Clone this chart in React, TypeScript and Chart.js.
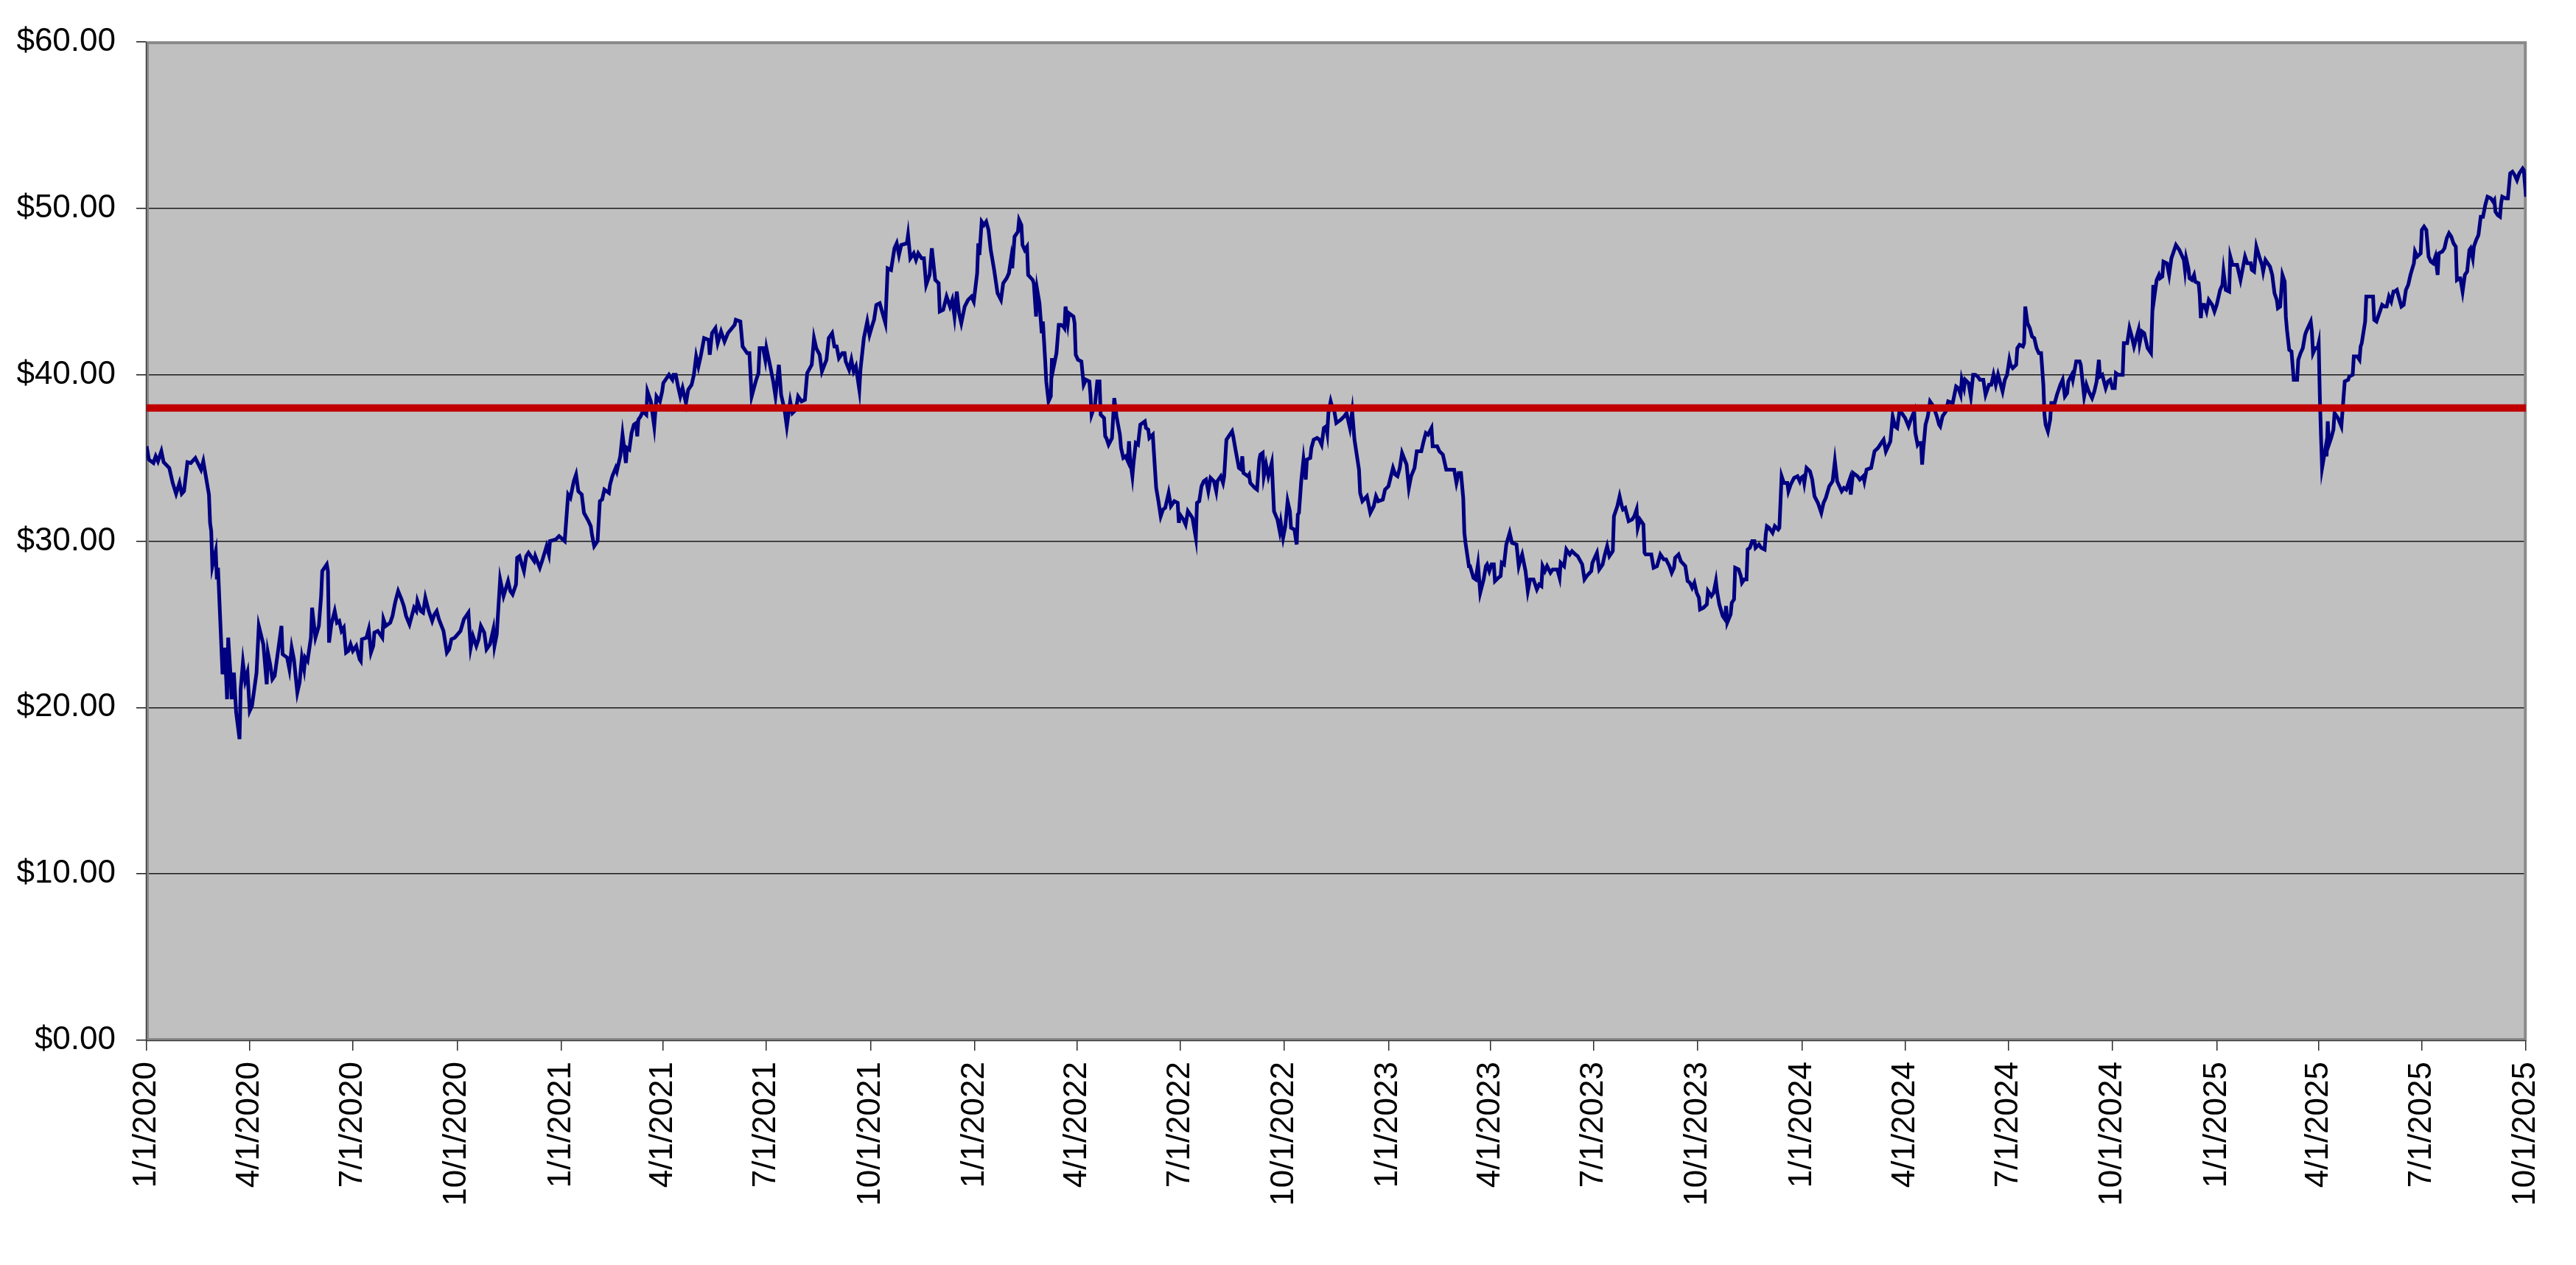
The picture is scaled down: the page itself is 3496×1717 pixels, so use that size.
import { useEffect, useRef } from 'react';
import { Chart, registerables } from 'chart.js';

Chart.register(...registerables);

// x values are days counted from 1/1/2020, y values are closing prices in $
const prices2020: [number, number][] = [
  [0,35.7],[2,34.9],[6,34.7],[8,35.1],[10,34.8],[13,35.4],[15,34.75],[20,34.4],[23,33.5],[26,32.85],[29,33.5],[31,32.85],[33,33.0],[36,34.75],[39,34.7],[43,35.0],[48,34.3],[50,34.8],[55,32.8],[56,31.1],[57,30.6],[58,28.5],[61,29.4],[62,27.7],[63,28.4],[65,25.2],[67,22.0],[69,23.6],[71,20.5],[72,24.2],[74,22.0],[75,20.5],[77,22.1],[78,20.9],[79,19.7],[82,18.1],[83,21.1],[85,22.7],[87,21.6],[89,22.1],[91,19.8],[93,20.1],[97,22.1],[99,24.9],[103,23.8],[106,21.4],[107,23.3],[109,22.6],[111,21.7],[113,21.9],[117,23.9],[119,24.9],[120,23.2],[124,23.0],[126,22.3],[128,23.6],[130,22.9],[133,20.9],[135,21.5],[137,23.0],[139,22.3],[140,23.0],[142,22.8],[145,24.2],[146,26.0],[149,24.2],[152,24.9],[154,26.7],[155,28.2],[159,28.6],[160,28.2],[161,23.9],[163,25.0],[166,25.8],[168,25.1],[170,25.2],[172,24.6],[174,24.8],[176,23.3],[178,23.4],[180,23.8],[182,23.4],[185,23.7],[188,22.9],[189,22.8],[190,24.1],[194,24.2],[196,24.7],[198,23.3],[200,23.7],[201,24.5],[204,24.6],[208,24.2],[209,25.3],[211,24.9],[215,25.1],[217,25.5],[219,26.2],[220,26.5],[222,27.0],[225,26.5],[227,26.1],[229,25.5],[232,25.0],[234,25.5],[236,26.0],[238,25.8],[239,26.4],[242,25.8],[244,25.7],[246,26.6],[249,25.8],[252,25.2],[254,25.6],[256,25.8],[258,25.3],[262,24.6],[265,23.3],[267,23.5],[269,24.1],[272,24.2],[277,24.6],[280,25.3],[284,25.7],[286,23.6],[288,24.3],[291,23.7],[293,24.1],[295,24.9],[298,24.5],[300,23.5],[303,23.8],[306,24.7],[307,23.7],[309,24.4],[312,27.7],[315,26.7],[319,27.6],[321,27.0],[323,26.8],[326,27.4],[327,29.0],[329,29.1],[333,28.2],[335,29.1],[337,29.3],[342,28.8],[343,29.1],[347,28.4],[349,28.8],[353,29.7],[355,29.2],[356,30.0],[361,30.1],[364,30.3]
];

const prices2021: [number, number][] = [
  [369,30.0],[372,32.8],[374,32.6],[377,33.6],[379,34.0],[381,33.0],[384,32.8],[386,31.7],[390,31.2],[392,30.9],[393,30.4],[395,29.7],[398,30.0],[400,32.4],[402,32.5],[404,33.1],[408,32.9],[409,33.4],[411,33.9],[414,34.4],[415,34.2],[418,35.1],[420,36.4],[423,34.7],[424,35.6],[426,35.5],[428,36.5],[430,37.0],[432,37.1],[433,36.3],[434,37.3],[436,37.5],[438,37.8],[441,37.6],[442,39.0],[445,38.4],[448,36.9],[450,38.7],[453,38.4],[455,39.0],[456,39.5],[458,39.7],[461,40.0],[464,39.7],[465,40.0],[467,40.0],[469,39.3],[471,38.7],[473,39.2],[476,38.3],[478,39.1],[481,39.4],[483,40.0],[485,41.1],[487,40.5],[489,41.1],[492,42.2],[496,42.1],[497,41.2],[499,42.5],[502,42.8],[504,41.9],[507,42.6],[510,42.0],[513,42.5],[519,43.0],[520,43.3],[524,43.2],[526,41.7],[530,41.3],[532,41.3],[534,38.7],[538,39.7],[540,40.1],[541,41.6],[544,41.6],[546,40.9],[547,41.6],[551,40.3],[553,39.6],[555,38.7],[558,40.6],[560,38.8],[563,37.9],[565,36.9],[568,38.4],[570,37.7],[573,37.9],[575,38.7],[578,38.4],[581,38.5],[583,40.1],[587,40.6],[589,42.2],[591,41.6],[594,41.2],[596,40.2],[600,40.9],[602,42.2],[605,42.5],[607,41.7],[609,41.7],[611,41.0],[614,41.3],[616,41.3],[617,40.8],[620,40.3],[622,40.9],[624,40.2],[626,40.5],[629,39.1],[630,40.3],[633,42.2],[636,43.2],[638,42.4],[641,43.1],[642,43.3],[644,44.2],[647,44.3],[652,43.1],[654,46.4],[657,46.3],[660,47.6],[662,47.9],[664,47.2],[666,47.8],[671,47.9],[672,48.4],[674,47.0],[677,47.3],[679,46.9],[681,47.3],[684,47.0],[686,47.0],[688,45.4],[691,46.0],[693,47.6],[696,45.7],[699,45.5],[700,43.8],[703,43.9],[706,44.7],[709,44.1],[711,44.5],[713,43.5],[715,45.0],[717,43.7],[719,43.1],[722,44.1],[725,44.5],[728,44.7],[730,44.4]
];

const prices2022: [number, number][] = [
  [733,46.1],[734,47.9],[735,47.2],[737,49.2],[739,49.0],[741,49.2],[743,48.7],[745,47.5],[748,46.3],[751,44.9],[754,44.5],[756,45.5],[759,45.8],[761,46.1],[763,47.0],[764,46.4],[766,48.3],[769,48.6],[770,49.3],[772,49.0],[773,47.8],[775,47.5],[777,47.7],[778,46.0],[782,45.7],[783,45.5],[785,43.5],[786,45.1],[788,44.3],[790,42.5],[791,43.2],[793,40.9],[794,39.6],[796,38.4],[798,38.7],[799,41.0],[800,40.3],[803,41.3],[805,43.0],[807,43.0],[809,42.9],[810,42.8],[811,44.1],[813,43.1],[814,43.7],[818,43.5],[819,43.1],[820,41.2],[822,40.9],[825,40.8],[827,39.4],[829,39.7],[832,39.6],[833,38.8],[834,37.6],[837,38.2],[839,39.6],[841,39.6],[842,37.6],[845,37.4],[846,36.3],[847,36.2],[849,35.8],[852,36.2],[854,38.6],[856,37.5],[859,36.4],[860,35.6],[862,35.0],[864,35.1],[866,34.8],[867,36.0],[868,34.9],[870,33.9],[871,34.7],[873,35.9],[875,35.8],[877,37.0],[881,37.2],[882,36.8],[884,36.7],[885,36.2],[888,36.4],[891,33.2],[893,32.4],[895,31.5],[897,31.9],[899,32.0],[902,32.9],[904,32.1],[907,32.4],[910,32.3],[911,31.1],[912,31.6],[915,31.3],[917,31.0],[919,31.8],[921,31.6],[923,31.4],[926,30.2],[927,32.3],[929,32.4],[931,33.3],[933,33.6],[935,33.7],[937,33.0],[939,33.8],[942,33.6],[944,33.0],[945,33.6],[948,33.9],[950,33.5],[951,33.9],[953,36.1],[955,36.3],[958,36.6],[959,36.3],[961,35.5],[964,34.4],[966,34.3],[967,35.1],[968,34.1],[972,33.9],[973,34.0],[974,33.5],[978,33.2],[980,33.1],[982,34.9],[983,35.2],[985,35.3],[986,33.9],[988,34.6],[990,33.9],[993,34.7],[995,31.8],[998,31.3],[1000,30.6],[1001,31.1],[1003,30.2],[1005,30.9],[1007,32.4],[1009,31.8],[1010,30.8],[1013,30.7],[1015,29.8],[1016,31.6],[1017,31.7],[1019,33.6],[1021,34.9],[1023,33.7],[1024,34.9],[1027,35.0],[1028,35.6],[1030,36.1],[1033,36.2],[1035,36.1],[1037,35.8],[1039,36.8],[1041,36.9],[1042,36.5],[1043,37.7],[1045,38.4],[1047,37.9],[1048,37.9],[1050,37.1],[1054,37.3],[1057,37.5],[1059,37.7],[1062,36.8],[1064,37.8],[1066,36.1],[1070,34.3],[1071,32.9],[1073,32.4],[1077,32.7],[1080,31.7],[1083,32.1],[1085,32.7],[1087,32.4],[1091,32.5],[1093,33.1],[1096,33.3]
];

const prices2023: [number, number][] = [
  [1100,34.4],[1102,34.0],[1104,33.9],[1106,34.4],[1108,35.3],[1112,34.6],[1114,33.2],[1116,33.9],[1119,34.4],[1121,35.4],[1125,35.4],[1127,36.0],[1129,36.5],[1131,36.4],[1134,36.8],[1135,35.7],[1139,35.7],[1141,35.4],[1144,35.2],[1147,34.3],[1150,34.3],[1154,34.3],[1156,33.5],[1158,34.1],[1160,34.1],[1162,32.6],[1163,30.5],[1164,29.9],[1167,28.5],[1168,28.5],[1171,27.8],[1173,27.7],[1175,28.6],[1177,26.9],[1180,27.7],[1182,28.5],[1183,28.6],[1185,28.2],[1187,28.6],[1189,28.6],[1190,27.6],[1193,27.8],[1195,27.9],[1196,28.7],[1198,28.6],[1200,29.8],[1203,30.5],[1205,29.9],[1209,29.8],[1211,28.5],[1213,29.0],[1214,29.2],[1217,28.2],[1219,27.0],[1221,27.7],[1224,27.7],[1227,27.1],[1229,27.4],[1231,27.3],[1232,28.5],[1234,28.2],[1236,28.5],[1239,28.1],[1241,28.3],[1245,28.3],[1247,27.8],[1248,28.7],[1251,28.5],[1253,29.5],[1256,29.2],[1258,29.4],[1261,29.2],[1263,29.1],[1267,28.6],[1269,27.7],[1271,27.9],[1275,28.2],[1276,28.7],[1278,29.0],[1280,29.3],[1282,28.3],[1285,28.6],[1287,29.2],[1289,29.7],[1291,29.1],[1294,29.4],[1295,31.5],[1298,32.1],[1300,32.7],[1302,32.1],[1303,31.9],[1305,32.0],[1308,31.2],[1311,31.3],[1313,31.5],[1315,31.9],[1316,30.8],[1318,31.3],[1321,31.0],[1322,29.3],[1323,29.2],[1327,29.2],[1328,29.2],[1330,28.4],[1333,28.5],[1336,29.2],[1339,28.9],[1341,28.9],[1344,28.5],[1346,28.1],[1348,28.4],[1349,29.0],[1352,29.2],[1354,28.8],[1358,28.5],[1360,27.6],[1362,27.5],[1364,27.2],[1366,27.5],[1368,26.9],[1370,26.6],[1371,25.9],[1374,26.0],[1377,26.2],[1378,27.0],[1381,26.7],[1383,26.9],[1385,27.6],[1386,27.0],[1388,26.2],[1391,25.5],[1393,25.3],[1394,26.1],[1395,25.1],[1398,25.6],[1399,26.3],[1401,26.5],[1402,28.4],[1405,28.3],[1407,27.9],[1408,27.5],[1410,27.7],[1412,27.7],[1413,29.5],[1415,29.6],[1417,30.0],[1419,30.0],[1420,29.6],[1423,29.8],[1425,29.6],[1428,29.5],[1429,30.4],[1430,30.9],[1432,30.8],[1435,30.5],[1437,30.9],[1440,30.7],[1441,30.8],[1443,33.9],[1445,33.5],[1448,33.5],[1449,33.0],[1451,33.4],[1454,33.8],[1457,33.9],[1459,33.6],[1460,33.8],[1462,33.9]
];

const prices2024: [number, number][] = [
  [1463,33.5],[1465,34.4],[1468,34.2],[1470,33.7],[1472,32.7],[1475,32.3],[1478,31.7],[1480,32.3],[1482,32.6],[1485,33.3],[1488,33.6],[1490,34.8],[1492,33.6],[1496,33.0],[1498,33.2],[1500,33.1],[1503,33.7],[1504,32.8],[1506,34.1],[1510,33.9],[1512,33.7],[1515,33.9],[1516,33.6],[1518,34.3],[1522,34.4],[1525,35.4],[1528,35.6],[1531,35.9],[1533,36.1],[1535,35.4],[1539,36.0],[1541,37.5],[1543,36.9],[1545,36.8],[1547,37.8],[1549,37.7],[1552,37.4],[1555,36.9],[1557,37.3],[1560,37.8],[1561,36.5],[1563,35.8],[1564,35.9],[1566,35.9],[1567,34.6],[1568,35.5],[1570,37.0],[1572,37.5],[1574,38.4],[1577,38.1],[1580,37.5],[1582,37.0],[1583,36.9],[1585,37.5],[1588,37.8],[1590,38.4],[1594,38.3],[1597,39.3],[1599,39.2],[1601,38.8],[1602,39.7],[1604,39.2],[1605,39.7],[1608,39.5],[1610,38.7],[1612,40.0],[1614,40.0],[1616,39.9],[1618,39.7],[1621,39.7],[1623,38.8],[1626,39.4],[1628,39.4],[1630,40.0],[1632,39.4],[1634,40.0],[1636,39.5],[1638,39.0],[1640,39.7],[1642,40.0],[1644,40.9],[1645,40.6],[1647,40.4],[1650,40.6],[1651,41.6],[1653,41.8],[1656,41.7],[1657,41.9],[1658,44.1],[1660,43.1],[1662,42.8],[1664,42.3],[1666,42.2],[1668,41.6],[1670,41.3],[1672,41.3],[1674,39.4],[1675,37.6],[1676,37.0],[1678,36.6],[1680,37.3],[1681,38.3],[1684,38.3],[1686,38.8],[1689,39.4],[1691,39.7],[1693,38.7],[1695,38.9],[1696,39.6],[1699,40.0],[1700,39.7],[1703,40.8],[1706,40.8],[1707,40.6],[1710,38.7],[1712,39.4],[1714,39.0],[1717,38.6],[1719,39.0],[1721,39.6],[1723,40.9],[1724,39.9],[1726,40.0],[1729,39.2],[1731,39.6],[1733,39.7],[1735,39.2],[1737,39.2],[1738,40.1],[1740,40.0],[1744,40.0],[1745,41.9],[1748,41.9],[1750,42.8],[1752,42.3],
  [1754,41.7],[1756,42.2],[1758,42.7],[1759,41.9],[1761,42.6],[1763,42.5],[1765,41.9],[1766,41.6],[1769,41.3],[1771,45.4],[1772,44.7],[1774,45.7],[1776,46.0],[1777,45.8],[1779,45.9],[1780,46.8],[1783,46.7],[1785,46.0],[1787,47.0],[1790,47.6],[1791,47.8],[1794,47.5],[1796,47.2],[1798,46.9],[1799,46.3],[1800,47.0],[1802,46.4],[1803,45.8],[1805,45.7],[1807,46.0],[1808,45.6],[1811,45.5],[1812,44.8],[1813,43.4],[1814,44.2],[1816,44.2],[1818,43.8],[1820,44.5],[1823,44.2],[1825,43.8]
];

const prices2025: [number, number][] = [
  [1827,44.2],[1830,45.1],[1832,45.4],[1833,46.2],[1835,45.1],[1838,45.0],[1839,47.1],[1841,46.6],[1845,46.6],[1848,45.7],[1850,46.4],[1852,47.1],[1854,46.7],[1857,46.7],[1858,46.3],[1860,46.2],[1862,47.7],[1865,47.0],[1867,46.6],[1868,46.2],[1870,46.9],[1872,46.7],[1874,46.5],[1876,46.0],[1878,44.9],[1880,44.5],[1881,44.0],[1883,44.1],[1885,46.0],[1887,45.6],[1888,43.5],[1889,42.7],[1891,41.5],[1893,41.4],[1895,39.7],[1898,39.7],[1899,40.9],[1901,41.3],[1903,41.6],[1905,42.4],[1906,42.6],[1910,43.2],[1911,42.6],[1912,41.3],[1914,41.6],[1916,41.6],[1917,41.9],[1918,38.7],[1919,36.4],[1920,34.4],[1922,35.2],[1923,35.6],[1924,35.1],[1925,37.2],[1926,35.8],[1928,36.2],[1930,36.7],[1931,37.7],[1934,37.4],[1937,36.9],[1939,38.7],[1940,39.6],[1943,39.7],[1944,39.9],[1947,40.0],[1948,41.1],[1951,41.1],[1953,40.9],[1954,41.7],[1955,41.9],[1958,43.2],[1959,44.7],[1961,44.7],[1963,44.7],[1965,44.7],[1966,43.3],[1968,43.2],[1971,43.8],[1973,44.2],[1975,44.1],[1977,44.1],[1979,44.7],[1981,44.4],[1983,45.0],[1984,45.0],[1986,45.1],[1988,44.6],[1990,44.1],[1992,44.2],[1994,45.1],[1996,45.4],[1998,46.0],[2001,46.7],[2002,47.4],[2004,47.1],[2007,47.3],[2008,48.7],[2010,48.9],[2012,48.7],[2014,47.1],[2016,46.8],[2018,46.7],[2020,47.1],[2022,46.0],[2023,47.3],[2026,47.4],[2028,47.6],[2030,48.2],[2032,48.5],[2034,48.3],[2036,47.9],[2038,47.7],[2039,45.7],[2041,45.8],[2042,45.8],[2044,45.0],[2046,46.0],[2048,46.2],[2050,47.5],[2051,47.6],[2053,47.0],[2054,47.7],[2056,48.1],[2058,48.4],[2060,49.5],[2062,49.5],[2064,50.2],[2066,50.7],[2069,50.6],[2071,50.4],[2072,50.5],[2073,49.8],[2075,49.6],[2077,49.5],[2078,50.3],[2079,50.7],[2082,50.6],[2084,50.6],[2086,52.1],[2088,52.2],[2090,52.0],[2092,51.7],[2094,52.1],[2097,52.4],[2098,52.3],[2100,50.7]
];

const referencePrice = 38;

const quarterDays = [0, 91, 182, 274, 366, 456, 547, 639, 731, 821, 912, 1004, 1096, 1186, 1277, 1369, 1461, 1552, 1643, 1735, 1827, 1917, 2008, 2100];
const quarterLabels = [
  '1/1/2020', '4/1/2020', '7/1/2020', '10/1/2020',
  '1/1/2021', '4/1/2021', '7/1/2021', '10/1/2021',
  '1/1/2022', '4/1/2022', '7/1/2022', '10/1/2022',
  '1/1/2023', '4/1/2023', '7/1/2023', '10/1/2023',
  '1/1/2024', '4/1/2024', '7/1/2024', '10/1/2024',
  '1/1/2025', '4/1/2025', '7/1/2025', '10/1/2025',
];

const W = 3496;
const H = 1717;
const FONT = { family: '"Liberation Sans", Arial, sans-serif', size: 44 };

const plotFrame = {
  id: 'plotFrame',
  beforeDraw(chart: any) {
    const { ctx, chartArea } = chart;
    const { left, top, right, bottom } = chartArea;
    ctx.save();
    ctx.fillStyle = '#ffffff';
    ctx.fillRect(0, 0, chart.width, chart.height);
    ctx.fillStyle = '#C0C0C0';
    ctx.fillRect(left, top, right - left, bottom - top);
    ctx.restore();
  },
  beforeDatasetsDraw(chart: any) {
    const { ctx, chartArea } = chart;
    const { left, top, right, bottom } = chartArea;
    ctx.save();
    ctx.strokeStyle = '#8a8a8a';
    ctx.lineWidth = 4;
    ctx.strokeRect(left + 1, top + 1, right - left - 2, bottom - top - 2);
    ctx.strokeStyle = '#3a3a3a';
    ctx.lineWidth = 1.5;
    ctx.beginPath();
    ctx.moveTo(left - 0.5, top);
    ctx.lineTo(left - 0.5, bottom + 0.5);
    ctx.lineTo(right, bottom + 0.5);
    ctx.stroke();
    ctx.restore();
  },
};

export default function App() {
  const ref = useRef<HTMLCanvasElement | null>(null);

  useEffect(() => {
    document.body.style.margin = '0';
    const canvas = ref.current;
    if (!canvas) return;
    const series = [...prices2020, ...prices2021, ...prices2022, ...prices2023, ...prices2024, ...prices2025]
      .map(([x, y]) => ({ x, y }));
    const chart = new Chart(canvas, {
      type: 'line',
      data: {
        datasets: [
          {
            label: 'Price',
            data: series,
            borderColor: '#000080',
            borderWidth: 5,
            pointRadius: 0,
            tension: 0,
            fill: false,
            order: 1,
          },
          {
            label: 'Reference',
            data: [
              { x: quarterDays[0], y: referencePrice },
              { x: quarterDays[quarterDays.length - 1], y: referencePrice },
            ],
            borderColor: '#C00000',
            borderWidth: 10,
            pointRadius: 0,
            fill: false,
            order: 0,
          },
        ],
      },
      options: {
        animation: false,
        responsive: false,
        devicePixelRatio: 1,
        events: [],
        layout: { padding: { top: 57, right: 45, left: 0, bottom: 0 } },
        plugins: {
          legend: { display: false },
          tooltip: { enabled: false },
        },
        scales: {
          x: {
            type: 'linear',
            min: 0,
            max: 2100,
            afterBuildTicks: (scale: any) => {
              scale.ticks = quarterDays.map((value) => ({ value }));
            },
            afterFit: (scale: any) => {
              scale.height = 305;
            },
            ticks: {
              autoSkip: false,
              minRotation: 90,
              maxRotation: 90,
              padding: 15,
              color: '#000000',
              font: FONT,
              callback: (_v: any, index: number) => quarterLabels[index],
            },
            grid: {
              drawOnChartArea: false,
              drawTicks: true,
              tickLength: 14,
              color: '#2a2a2a',
              lineWidth: 1.5,
            },
            border: { display: false },
          },
          y: {
            min: 0,
            max: 60,
            afterFit: (scale: any) => {
              scale.width = 199;
            },
            ticks: {
              stepSize: 10,
              padding: 28,
              color: '#000000',
              font: FONT,
              callback: (v: any) => '$' + Number(v).toFixed(2),
            },
            grid: {
              color: '#1a1a1a',
              lineWidth: 1.5,
              tickLength: 14,
            },
            border: { display: false },
          },
        },
      },
      plugins: [plotFrame],
    });
    return () => chart.destroy();
  }, []);

  return (
    <div style={{ width: W, height: H, background: '#ffffff' }}>
      <canvas ref={ref} width={W} height={H} style={{ width: W, height: H, display: 'block' }} />
    </div>
  );
}
